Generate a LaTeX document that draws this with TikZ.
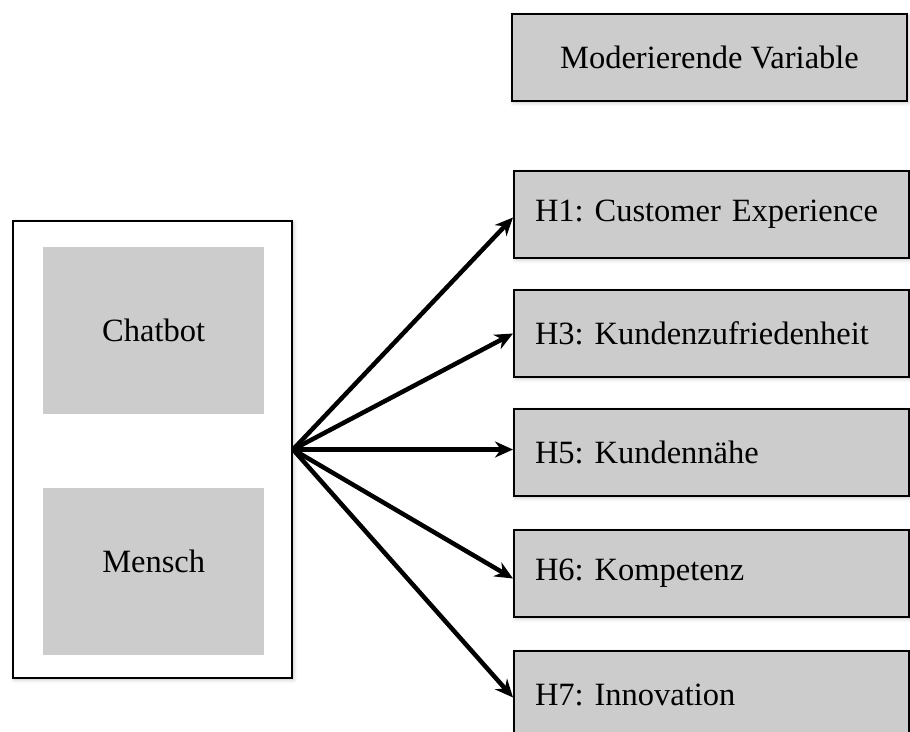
\documentclass[tikz,border=0pt]{standalone}
\usepackage{fontspec}
\setmainfont{Liberation Serif}
\usetikzlibrary{arrows.meta,positioning,shadows.blur}
\begin{document}
\frenchspacing
\begin{tikzpicture}[x=1pt,y=-1pt,
  every node/.style={font=\fontsize{32.5}{38}\selectfont, text=black},
  softshadow/.style={blur shadow={shadow xshift=1.5pt, shadow yshift=-1.5pt, shadow opacity=25, shadow blur radius=4pt}},
  varbox/.style={draw=black, line width=2pt, fill=black!20, rectangle, anchor=north west,
    minimum width=395pt, minimum height=87pt, inner sep=0pt, softshadow},
  hbox/.style={varbox, align=left, text width=395pt-42pt, inner xsep=21pt},
  outerbox/.style={draw=black, line width=2pt, fill=white, rectangle, anchor=north west,
    minimum width=279pt, minimum height=457pt, inner sep=0pt, softshadow},
  greybox/.style={fill=black!20, rectangle, anchor=north west,
    minimum width=221pt, minimum height=167pt, inner sep=0pt},
  arr/.style={line width=4.5pt, -{Stealth[length=18pt,width=16pt]}}
]
\useasboundingbox (0,0) rectangle (910,731);
\node[varbox] (mod) at (511,13) {Moderierende Variable};
\node[outerbox] (outer) at (12,220) {};
\node[greybox] (chat) at (43,247) {Chatbot};
\node[greybox] (mensch) at (43,488) {\raisebox{20pt}{Mensch}};
\node[hbox] (h1) at (513,170) {H1: Customer Experience};
\node[hbox] (h3) at (513,289) {H3: Kundenzufriedenheit};
\node[hbox] (h5) at (513,408) {H5: Kundennähe};
\node[hbox] (h6) at (513,529) {H6: Kompetenz};
\node[hbox] (h7) at (513,650) {H7: Innovation};
\coordinate (src) at (outer.east);
\draw[arr] (src) -- ([yshift=-3pt]h1.west);
\draw[arr] (src) -- (h3.west);
\draw[arr] (src) -- ([yshift=3pt]h5.west);
\draw[arr] (src) -- ([yshift=-5pt]h6.west);
\draw[arr] (src) -- ([yshift=-3pt]h7.west);
\end{tikzpicture}
\end{document}
